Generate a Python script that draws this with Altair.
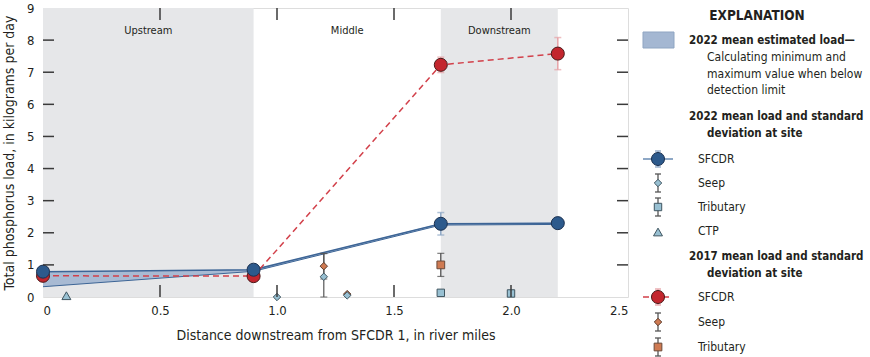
import altair as alt
import pandas as pd

FONT = "DejaVu Sans Condensed"

# ---------------- data ----------------
sfcdr_x = [0.0, 0.9, 1.7, 2.2]
load_2022 = [0.79, 0.85, 2.28, 2.30]
sd_2022 = [0.0, 0.0, 0.35, 0.0]
load_2017 = [0.66, 0.65, 7.23, 7.58]
sd_2017 = [0.0, 0.0, 0.24, 0.50]

band_x = [0.0, 0.9, 1.7, 2.2]
band_lo = [0.32, 0.80, 2.24, 2.26]
band_hi = [0.79, 0.85, 2.30, 2.32]

seep22_x = [1.0, 1.2, 1.3]
seep22_y = [0.0, 0.63, 0.05]
seep22_sd = [0.0, 0.72, 0.0]

seep17_x = [1.2, 1.3]
seep17_y = [0.96, 0.09]
seep17_sd = [0.40, 0.0]

trib22_x = [1.7, 2.0]
trib22_y = [0.13, 0.11]
trib22_sd = [0.0, 0.0]

trib17_x = [1.7]
trib17_y = [1.0]
trib17_sd = [0.36]

ctp22_x = [0.1]
ctp22_y = [0.04]

zones = ["Upstream", "Middle", "Downstream"]
zone_start = [0.0, 0.9, 1.7]
zone_end = [0.9, 1.7, 2.2]
zone_shaded = [True, False, True]

x_labels = [0, 0.5, 1.0, 1.5, 2.0, 2.5]
y_labels = [0, 1, 2, 3, 4, 5, 6, 7, 8, 9]
x_ticks = [0.5, 1.0, 1.5, 2.0]
y_ticks = [1, 2, 3, 4, 5, 6, 7, 8]

W, H = 585, 289
OX, OY = 43, 8  # plot origin in window

xs = alt.Scale(domain=[0, 2.5], nice=False, zero=False)
ys = alt.Scale(domain=[0, 9], nice=False, zero=False)

XT = "Distance downstream from SFCDR 1, in river miles"
YT = "Total phosphorus load, in kilograms per day"
AX = alt.Axis(values=x_labels, ticks=False, domain=False, grid=False,
              labelExpr="datum.value == 0 ? '0' : format(datum.value, '.1f')",
              labelPadding=7, titlePadding=11, labelFontSize=13, titleFontSize=14,
              labelFont=FONT, titleFont=FONT, titleFontWeight="normal",
              labelColor="#231f20", titleColor="#231f20")
AY = alt.Axis(values=y_labels, ticks=False, domain=False, grid=False,
              labelPadding=9, titlePadding=10, labelFontSize=13, titleFontSize=14,
              labelFont=FONT, titleFont=FONT, titleFontWeight="normal",
              labelColor="#231f20", titleColor="#231f20")


def xq(f):
    return alt.X(f, type="quantitative", scale=xs, axis=AX, title=XT)


def yq(f):
    return alt.Y(f, type="quantitative", scale=ys, axis=AY, title=YT)


BLUE = "#2d5a8c"
BLUE_LINE = "#3d6596"
RED = "#c3262e"
RED_LINE = "#d2404a"
BAND = "#a4b7d2"
SHADE = "#e6e7e9"
LB = "#98c0d2"
ORANGE = "#cf7a52"


def err_df(x, y, sd):
    return pd.DataFrame({"x": x, "y": y, "lo": [max(0.0, a - b) for a, b in zip(y, sd)],
                         "hi": [a + b for a, b in zip(y, sd)], "sd": sd})


zdf = pd.DataFrame({"zone": zones, "x0": zone_start, "x1": zone_end, "shaded": zone_shaded})
zdf["xm"] = (zdf["x0"] + zdf["x1"]) / 2

shade = alt.Chart(zdf[zdf["shaded"]]).mark_rect(color=SHADE).encode(
    x=xq("x0"), x2="x1:Q", y=alt.value(0), y2=alt.value(H))
zone_text = alt.Chart(zdf).mark_text(font=FONT, fontSize=11, color="#231f20").encode(
    x=xq("xm"), y=alt.value(23), text="zone:N")

base = alt.Chart(pd.DataFrame({"x": [0.0], "y": [0.0]})).mark_point(opacity=0).encode(x=xq("x"), y=yq("y"))

ydf = pd.DataFrame({"y": y_ticks})
xdf = pd.DataFrame({"x": x_ticks})
tk = dict(color="#3a3a3a", strokeWidth=1.5)
tick_l = alt.Chart(ydf).mark_rule(**tk).encode(y=yq("y"), x=alt.value(0), x2=alt.value(11))
tick_r = alt.Chart(ydf).mark_rule(**tk).encode(y=yq("y"), x=alt.value(W - 11), x2=alt.value(W))
tick_b = alt.Chart(xdf).mark_rule(**tk).encode(x=xq("x"), y=alt.value(H - 12), y2=alt.value(H))
tick_t = alt.Chart(xdf).mark_rule(**tk).encode(x=xq("x"), y=alt.value(0), y2=alt.value(12))

bdf = pd.DataFrame({"x": band_x, "lo": band_lo, "hi": band_hi})
band = alt.Chart(bdf).mark_area(color=BAND, opacity=0.95).encode(x=xq("x"), y=yq("lo"), y2="hi:Q")
band_edge = alt.Chart(bdf).mark_line(color=BLUE_LINE, strokeWidth=1).encode(x=xq("x"), y=yq("lo"))

s22 = err_df(sfcdr_x, load_2022, sd_2022)
s17 = err_df(sfcdr_x, load_2017, sd_2017)

line22 = alt.Chart(s22).mark_line(color=BLUE_LINE, strokeWidth=1.5).encode(x=xq("x"), y=yq("y"))
line17 = alt.Chart(s17).mark_line(color=RED_LINE, strokeWidth=1.5, strokeDash=[6, 4]).encode(
    x=xq("x"), y=yq("y"))


def errbars(df, color, width=1.5, cap=7):
    d = df[df["sd"] > 0]
    r = alt.Chart(d).mark_rule(color=color, strokeWidth=width).encode(x=xq("x"), y=yq("lo"), y2="hi:Q")
    c1 = alt.Chart(d).mark_tick(color=color, orient="horizontal", size=cap, thickness=width).encode(
        x=xq("x"), y=yq("lo"))
    c2 = alt.Chart(d).mark_tick(color=color, orient="horizontal", size=cap, thickness=width).encode(
        x=xq("x"), y=yq("hi"))
    return [r, c1, c2]


def pts(df, shape, fill, stroke, size, sw=1):
    return alt.Chart(df).mark_point(shape=shape, filled=True, fill=fill, stroke=stroke,
                                    strokeWidth=sw, size=size, opacity=1).encode(x=xq("x"), y=yq("y"))


se22 = err_df(seep22_x, seep22_y, seep22_sd)
se17 = err_df(seep17_x, seep17_y, seep17_sd)
tr22 = err_df(trib22_x, trib22_y, trib22_sd)
tr17 = err_df(trib17_x, trib17_y, trib17_sd)
ct22 = pd.DataFrame({"x": ctp22_x, "y": ctp22_y})

layers = [shade, base, zone_text, band, band_edge, line22, line17]
layers += errbars(s17, "#e7a3a7")
layers += errbars(s22, "#8ea8c6")
layers += errbars(se22, "#555555", 1.2)
layers += errbars(se17, "#555555", 1.2)
layers += errbars(tr17, "#444444", 1.2)
layers += [
    pts(se17, "diamond", ORANGE, "#5a3a2a", 55),
    pts(se22, "diamond", LB, "#3f5560", 55),
    pts(tr22, "square", LB, "#3f5560", 55),
    pts(tr17, "square", ORANGE, "#6a4a3a", 60),
    pts(ct22, "triangle-up", LB, "#3f5560", 80),
    pts(s17, "circle", RED, "#4a1a1a", 170),
    pts(s22, "circle", BLUE, "#1c3150", 170),
    tick_l, tick_r, tick_b, tick_t,
]

# ---------------- explanation (legend) ----------------
one = pd.DataFrame({"a": [0]})


def lg_text(txt, ax, ay, bold=False, size=None, align="left"):
    if size is None:
        size = 11.5 if bold else 12
    return alt.Chart(one).mark_text(text=txt, font=FONT, fontSize=size, align=align,
                                    baseline="middle", color="#231f20",
                                    fontWeight="bold" if bold else "normal").encode(
        x=alt.value(ax - OX), y=alt.value(ay - OY))


def lg_pt(ax, ay, shape, fill, stroke, size):
    return alt.Chart(one).mark_point(shape=shape, filled=True, fill=fill, stroke=stroke,
                                     strokeWidth=1, size=size, opacity=1).encode(
        x=alt.value(ax - OX), y=alt.value(ay - OY))


def lg_rule(ax1, ay1, ax2, ay2, color, width=1.3, dash=None):
    kw = dict(color=color, strokeWidth=width)
    if dash:
        kw["strokeDash"] = dash
    return alt.Chart(one).mark_rule(**kw).encode(
        x=alt.value(ax1 - OX), x2=alt.value(ax2 - OX), y=alt.value(ay1 - OY), y2=alt.value(ay2 - OY))


def lg_err(ax, ay, half, color, cap=3):
    return [lg_rule(ax, ay - half, ax, ay + half, color),
            lg_rule(ax - cap, ay - half, ax + cap, ay - half, color),
            lg_rule(ax - cap, ay + half, ax + cap, ay + half, color)]


SX = 658
TX = 698
leg = [
    lg_text("EXPLANATION", 757, 16, bold=True, size=13.5, align="center"),
    alt.Chart(one).mark_rect(color=BAND, stroke="#8fa5c2").encode(
        x=alt.value(643 - OX), x2=alt.value(674 - OX), y=alt.value(32 - OY), y2=alt.value(48 - OY)),
    lg_text("2022 mean estimated load\u2014", 689, 41, bold=True),
    lg_text("Calculating minimum and", 707, 57),
    lg_text("maximum value when below", 707, 74),
    lg_text("detection limit", 707, 90),
    lg_text("2022 mean load and standard", 689, 117, bold=True),
    lg_text("deviation at site", 707, 134, bold=True),
    lg_text("SFCDR", TX, 159), lg_text("Seep", TX, 183), lg_text("Tributary", TX, 207), lg_text("CTP", TX, 231),
    lg_text("2017 mean load and standard", 689, 257, bold=True),
    lg_text("deviation at site", 707, 274, bold=True),
    lg_text("SFCDR", TX, 297), lg_text("Seep", TX, 322), lg_text("Tributary", TX, 347),
]
leg += [lg_rule(643, 159, 673, 159, "#8ea8c6", 2)]
leg += lg_err(SX, 159, 8, "#8ea8c6")
leg += [lg_pt(SX, 159, "circle", BLUE, "#1c3150", 170)]
leg += lg_err(SX, 183, 9, "#555555")
leg += [lg_pt(SX, 183, "diamond", LB, "#3f5560", 55)]
leg += lg_err(SX, 207, 9, "#555555")
leg += [lg_pt(SX, 207, "square", LB, "#3f5560", 55)]
leg += [lg_pt(SX, 232, "triangle-up", LB, "#3f5560", 80)]
leg += [lg_rule(643, 297, 673, 297, RED_LINE, 1.5, [6, 4])]
leg += lg_err(SX, 297, 8, "#e7a3a7")
leg += [lg_pt(SX, 297, "circle", RED, "#4a1a1a", 170)]
leg += lg_err(SX, 322, 9, "#555555")
leg += [lg_pt(SX, 322, "diamond", ORANGE, "#5a3a2a", 55)]
leg += lg_err(SX, 347, 9, "#555555")
leg += [lg_pt(SX, 347, "square", ORANGE, "#6a4a3a", 60)]

chart = alt.layer(*(layers + leg)).properties(
    width=W, height=H,
    autosize=alt.AutoSizeParams(type="none"),
    padding={"left": OX, "top": OY, "right": 870 - OX - W, "bottom": 357 - OY - H},
).configure_view(stroke="#231f20", strokeWidth=1.5).configure(background="white")

chart.save("out.html", embed_options={"renderer": "svg", "actions": False})
